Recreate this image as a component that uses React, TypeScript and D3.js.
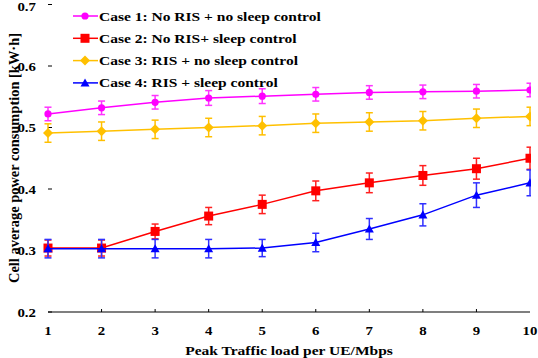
import React, { useEffect, useRef } from 'react';
import * as d3 from 'd3';

const loads = [1, 2, 3, 4, 5, 6, 7, 8, 9, 10];
const seriesNames = [
  'Case 1: No RIS + no sleep control',
  'Case 2: No RIS+ sleep control',
  'Case 3: RIS + no sleep control',
  'Case 4: RIS + sleep control',
];
const case1 = [0.522, 0.532, 0.541, 0.548, 0.551, 0.554, 0.557, 0.558, 0.559, 0.561];
const case1Err = [0.011, 0.011, 0.011, 0.012, 0.012, 0.011, 0.011, 0.011, 0.011, 0.011];
const case2 = [0.304, 0.304, 0.331, 0.356, 0.375, 0.397, 0.41, 0.422, 0.433, 0.45];
const case2Err = [0.013, 0.013, 0.012, 0.014, 0.015, 0.016, 0.016, 0.016, 0.017, 0.018];
const case3 = [0.491, 0.494, 0.497, 0.5, 0.503, 0.507, 0.509, 0.511, 0.515, 0.518];
const case3Err = [0.015, 0.015, 0.015, 0.015, 0.015, 0.015, 0.015, 0.015, 0.015, 0.015];
const case4 = [0.303, 0.303, 0.303, 0.303, 0.304, 0.313, 0.335, 0.358, 0.39, 0.41];
const case4Err = [0.015, 0.015, 0.015, 0.015, 0.014, 0.015, 0.017, 0.018, 0.02, 0.021];
const yTicks = [0.2, 0.3, 0.4, 0.5, 0.6, 0.7];
const xTitle = 'Peak Traffic load per UE/Mbps';
const yTitle = 'Cell average power consumption [kW·h]';

const colors = ['#ff00ff', '#ff0000', '#ffc000', '#0000ff'];
const errColors = ['#ff33ff', '#ff2020', '#ffbf00', '#3030ff'];
const shapes = ['circle', 'square', 'diamond', 'triangle'];

const FONT = '"Liberation Serif", "Times New Roman", serif';

// the reference font is a wide bold serif, so stretch Liberation Serif a bit
function label(g: any, x: number, y: number, txt: string, anchor = 'start', size = 13.5, sx = 1.15) {
  g.append('text')
    .attr('transform', `translate(${x},${y}) scale(${sx},1)`)
    .attr('text-anchor', anchor)
    .attr('font-family', FONT).attr('font-weight', 'bold').attr('font-size', size)
    .attr('fill', '#000')
    .text(txt);
}

function drawMarker(g: any, shape: string, x: number, y: number, color: string) {
  if (shape === 'circle') {
    g.append('circle').attr('cx', x).attr('cy', y).attr('r', 3.6).attr('fill', color);
  } else if (shape === 'square') {
    g.append('rect').attr('x', x - 4.5).attr('y', y - 4.5).attr('width', 9).attr('height', 9).attr('fill', color);
  } else if (shape === 'diamond') {
    const s = 5;
    g.append('path').attr('d', `M${x},${y - s}L${x + s},${y}L${x},${y + s}L${x - s},${y}Z`).attr('fill', color);
  } else {
    const s = 4.5;
    g.append('path').attr('d', `M${x},${y - s}L${x + s},${y + s * 0.8}L${x - s},${y + s * 0.8}Z`).attr('fill', color);
  }
}

export default function App() {
  const svgRef = useRef<SVGSVGElement>(null);

  useEffect(() => {
    const svg = d3.select(svgRef.current);
    svg.selectAll('*').remove();

    const x = d3.scaleLinear().domain([1, 10]).range([48, 530]);
    const y = d3.scaleLinear().domain([0.2, 0.7]).range([312, 4.5]);

    svg.append('defs').append('clipPath').attr('id', 'plotclip')
      .append('rect').attr('x', 0).attr('y', 0).attr('width', x(10) + 1).attr('height', 358);

    // x axis
    svg.append('line').attr('x1', x(1)).attr('x2', x(10)).attr('y1', 312).attr('y2', 312)
      .attr('stroke', '#000').attr('stroke-width', 1.2);
    loads.slice(1, 9).forEach(d => {
      svg.append('line').attr('x1', x(d)).attr('x2', x(d)).attr('y1', 312).attr('y2', 309)
        .attr('stroke', '#000').attr('stroke-width', 1);
    });
    loads.forEach(d => label(svg, x(d), 335, String(d), 'middle', 13.5, 1.1));

    // y axis ticks
    yTicks.forEach(t => {
      svg.append('line').attr('x1', x(1)).attr('x2', x(1) + 4).attr('y1', y(t)).attr('y2', y(t))
        .attr('stroke', '#000').attr('stroke-width', 1);
      label(svg, 36, Math.max(y(t) + 4.5, 11), t.toFixed(1), 'end', 13.5, 1.1);
    });

    label(svg, 289, 355, xTitle, 'middle');
    svg.append('text').attr('transform', 'translate(14,158) rotate(-90)').attr('text-anchor', 'middle')
      .attr('dy', 4.5)
      .attr('textLength', 250).attr('lengthAdjust', 'spacingAndGlyphs')
      .attr('font-family', FONT).attr('font-weight', 'bold').attr('font-size', 14)
      .text(yTitle);

    const values = [case1, case2, case3, case4];
    const errs = [case1Err, case2Err, case3Err, case4Err];
    const order = [0, 2, 1, 3];
    const plot = svg.append('g').attr('clip-path', 'url(#plotclip)');
    const line = d3.line<number>().x((_, i) => x(loads[i])).y(d => y(d));

    order.forEach(k => {
      const g = plot.append('g');
      g.append('path').datum(values[k]).attr('d', line)
        .attr('fill', 'none').attr('stroke', colors[k]).attr('stroke-width', 1.5);
      values[k].forEach((v, i) => {
        const cx = x(loads[i]);
        const top = y(v + errs[k][i]);
        const bot = y(v - errs[k][i]);
        g.append('line').attr('x1', cx).attr('x2', cx).attr('y1', top).attr('y2', bot)
          .attr('stroke', errColors[k]).attr('stroke-width', 1.5);
        [top, bot].forEach(yy => {
          g.append('line').attr('x1', cx - 3.5).attr('x2', cx + 3.5).attr('y1', yy).attr('y2', yy)
            .attr('stroke', errColors[k]).attr('stroke-width', 1.5);
        });
        drawMarker(g, shapes[k], cx, y(v), colors[k]);
      });
    });

    // legend
    const legend = svg.append('g');
    seriesNames.forEach((name, k) => {
      const ly = 16 + k * 22.3;
      legend.append('line').attr('x1', 73).attr('x2', 98).attr('y1', ly).attr('y2', ly)
        .attr('stroke', colors[k]).attr('stroke-width', 1.5);
      drawMarker(legend, shapes[k], 85, ly, colors[k]);
      label(legend, 99, ly + 4.5, name);
    });
  }, []);

  return (
    <svg ref={svgRef} width={538} height={358} style={{ position: 'absolute', left: 0, top: 0, background: '#fff' }} />
  );
}
